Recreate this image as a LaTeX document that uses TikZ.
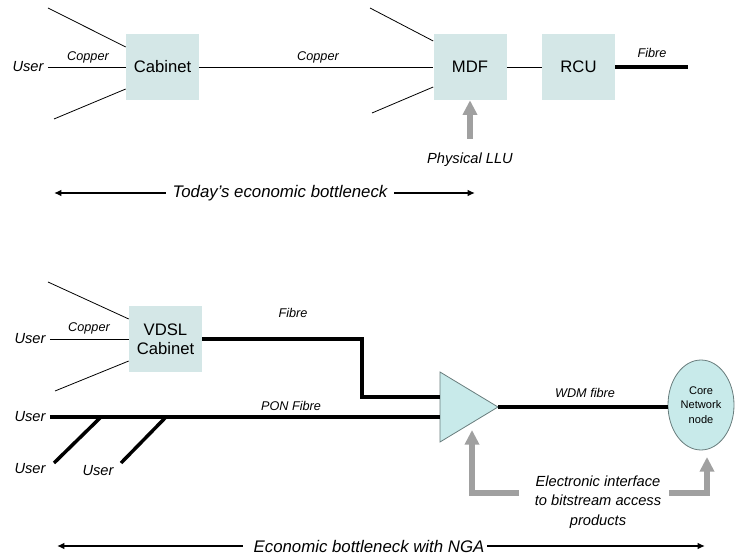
\documentclass[tikz,border=0pt]{standalone}
\usepackage{fontspec}
\setmainfont{Liberation Sans}
\usetikzlibrary{arrows.meta,shapes.geometric}
\definecolor{boxfill}{RGB}{212,231,231}
\definecolor{ampfill}{RGB}{200,234,234}
\definecolor{edgegrey}{RGB}{105,125,125}
\definecolor{arrgrey}{RGB}{160,160,160}

\begin{document}
\begin{tikzpicture}[x=0.75pt,y=0.75pt,yscale=-1,xscale=1,
  box/.style={fill=boxfill,minimum width=54.75pt,minimum height=49.5pt,inner sep=0pt,align=center,font=\fontsize{12.5}{14.5}\selectfont},
  usr/.style={font=\fontsize{11}{13}\selectfont\itshape,inner sep=3pt},
  lbl/.style={font=\fontsize{9.5}{11}\selectfont\itshape},
  note/.style={font=\fontsize{11}{14.6}\selectfont\itshape,align=center},
  neck/.style={font=\fontsize{12.6}{15}\selectfont\itshape},
  corenode/.style={ellipse,draw=edgegrey,fill=ampfill,line width=0.6pt,minimum width=49.5pt,minimum height=67.5pt,inner sep=0pt,align=center,font=\fontsize{8.3}{10.8}\selectfont},
  amp/.style={draw=edgegrey,fill=ampfill,line width=0.6pt},
  copper/.style={line width=0.6pt},
  fibre/.style={line width=2.6pt},
  neckarr/.style={line width=1.1pt,-{Latex[length=5.5pt,width=5pt]}},
  greyarr/.style={draw=arrgrey,line width=4.5pt,-{Triangle[width=10.5pt,length=11pt]}},
]
\useasboundingbox (0,0) rectangle (735,555);

%Shape: Rectangle
\node[box] (cab) at (162.5,67) {Cabinet};
%Shape: Rectangle
\node[box] (mdf) at (470,67) {MDF};
%Shape: Rectangle
\node[box] (rcu) at (578.5,67) {RCU};

% Text Node
\node[usr] (usrA) at (28,67) {User};

\coordinate (fanA1) at (48,8);
\coordinate (fanA2) at (54,119);
\coordinate (fanB1) at (370,8);
\coordinate (fanB2) at (372,113);
\coordinate (fibreEnd) at (688,67);
\coordinate (lluFoot) at (470,139);

%Straight Lines
\draw[copper] (usrA) -- (cab);
\draw[copper] (fanA1) -- ([yshift=-15pt]cab.west);
\draw[copper] (fanA2) -- ([yshift=16.5pt]cab.west);
\draw[copper] (cab) -- (mdf);
\draw[copper] (fanB1) -- ([yshift=-19.5pt]mdf.west);
\draw[copper] (fanB2) -- ([yshift=15pt]mdf.west);
\draw[copper] (mdf) -- (rcu);
\draw[fibre] (rcu) -- (fibreEnd);

% Text Node
\node[lbl] (lblCopperA) at (88,57) {Copper};
% Text Node
\node[lbl] (lblCopperB) at (318,57) {Copper};
% Text Node
\node[lbl] (lblFibreA) at (652,53) {Fibre};

%Grey Arrow
\draw[greyarr] (lluFoot) -- (mdf);
% Text Node
\node[note] (llu) at (470,160) {Physical LLU};

% Text Node
\node[neck,inner sep=5pt] (today) at (280,193) {Today’s economic bottleneck};
\coordinate (todayL) at (54,193);
\coordinate (todayR) at (475,193);
\draw[neckarr] (today) -- (todayL);
\draw[neckarr] (today) -- (todayR);

%Shape: Rectangle
\node[box] (vdsl) at (165.5,339) {VDSL\\Cabinet};
% Text Node
\node[usr] (usrB) at (30,339) {User};

\coordinate (fanC1) at (48,282);
\coordinate (fanC2) at (55,391);

%Straight Lines
\draw[copper] (usrB) -- (vdsl);
\draw[copper] (fanC1) -- ([yshift=-15pt]vdsl.west);
\draw[copper] (fanC2) -- ([yshift=16.5pt]vdsl.west);

%Shape: Triangle
\coordinate (ampTop) at (440,372);
\coordinate (ampBot) at (440,442);
\coordinate (ampTip) at (498,407);
\draw[amp] (ampTop) -- (ampTip) -- (ampBot) -- cycle;

%Shape: Ellipse
\node[corenode] (core) at (701,405) {Core\\Network\\node};

\coordinate (kink) at (362,397);
\coordinate (ampInA) at (440,397);
\coordinate (ampInB) at (440,417);
\coordinate (tapA) at (101,417);
\coordinate (tapB) at (166,417);
\coordinate (dropA) at (54,463);
\coordinate (dropB) at (121,463);

% Text Node
\node[usr] (usrC) at (30,417) {User};
% Text Node
\node[usr] (usrD) at (30,469) {User};
% Text Node
\node[usr] (usrE) at (98,471) {User};

%Straight Lines
\draw[fibre] (vdsl.east) -| (kink) -- (ampInA);
\draw[fibre] (usrC) -- (ampInB);
\draw[fibre] (tapA) -- (dropA);
\draw[fibre] (tapB) -- (dropB);
\draw[fibre] (ampTip) -- (ampTip -| core.west);

% Text Node
\node[lbl] (lblCopperC) at (89,328) {Copper};
% Text Node
\node[lbl] (lblFibreB) at (293,313) {Fibre};
% Text Node
\node[lbl] (lblPon) at (291,406) {PON Fibre};
% Text Node
\node[lbl] (lblWdm) at (585,393) {WDM fibre};

% Text Node
\node[note] (iface) at (598,502) {Electronic interface\\to bitstream access\\products};
\coordinate (ifaceL) at (519,493);
\coordinate (ifaceR) at (669,493);
\coordinate (ampFoot) at (472,430);
\coordinate (coreFoot) at (707,457);

%Grey Arrows
\draw[greyarr] (ifaceL) -| (ampFoot);
\draw[greyarr] (ifaceR) -| (coreFoot);

% Text Node
\node[neck,inner sep=2pt] (nga) at (369,546) {Economic bottleneck with NGA};
\coordinate (ngaL) at (57,546);
\coordinate (ngaR) at (705,546);
\draw[neckarr] ([xshift=-6pt]nga.west) -- (ngaL);
\draw[neckarr] (nga.east) -- (ngaR);

\end{tikzpicture}
\end{document}
